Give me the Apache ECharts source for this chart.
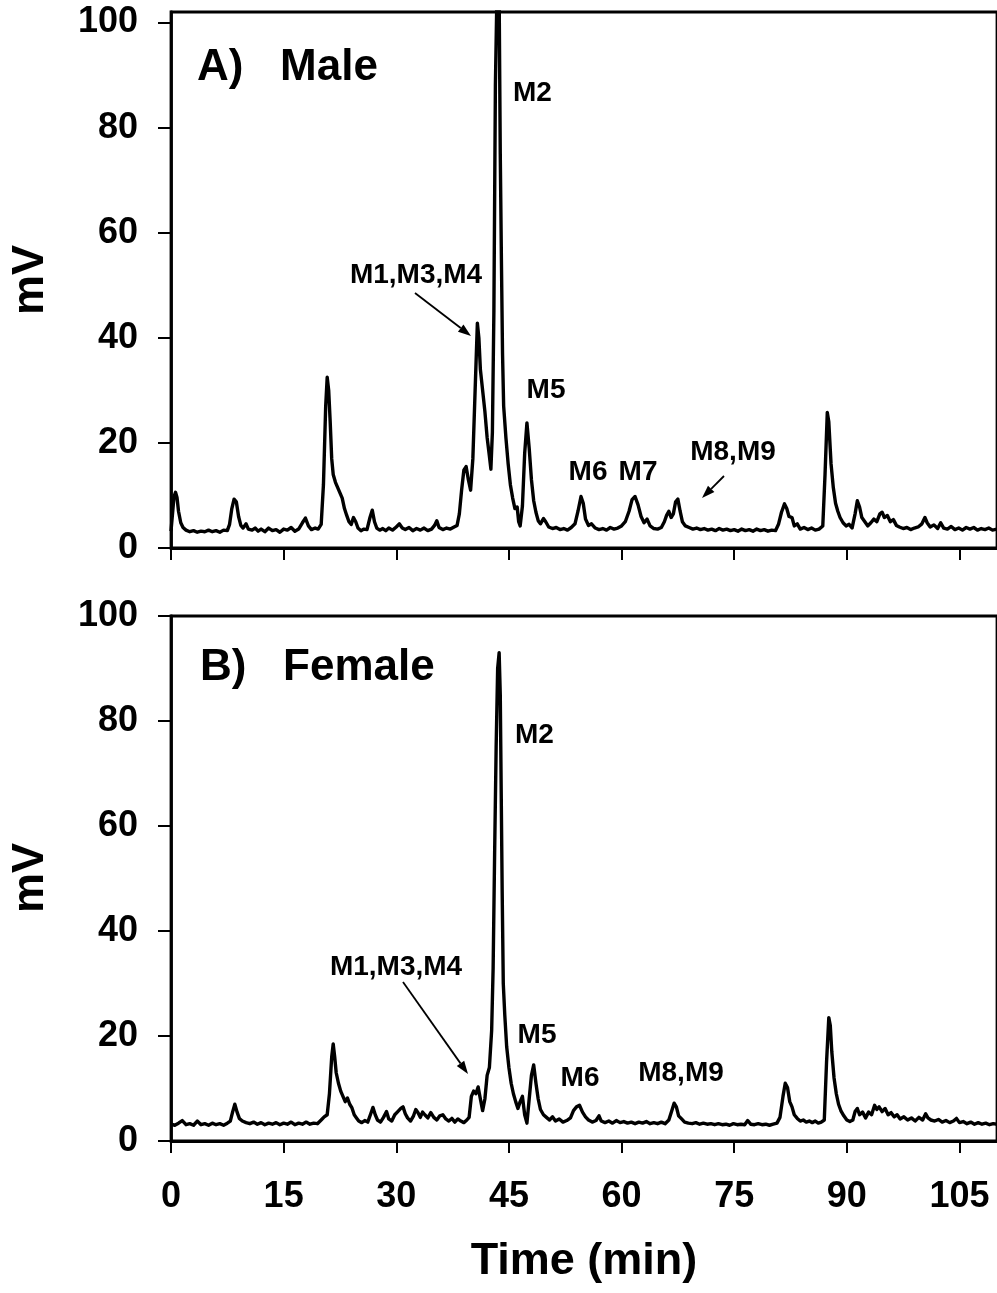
<!DOCTYPE html>
<html>
<head>
<meta charset="utf-8">
<script src="https://cdn.jsdelivr.net/npm/echarts@6/dist/echarts.min.js"></script>
<style>html,body{margin:0;padding:0;background:#fff}#main{width:997px;height:1293px}</style>
</head>
<body>
<div id="main"></div>
<script>
// ---- data (time in min, signal in mV) ----
var xTicks = [0, 15, 30, 45, 60, 75, 90, 105];
var yTicks = [0, 20, 40, 60, 80, 100];

var maleData = [
[0.0,3.2],[0.2,6.5],[0.4,9.8],[0.6,10.6],[0.8,9.6],[1.0,7.0],[1.3,4.8],[1.6,3.9],[2.0,3.4],[2.5,3.1],[3.0,3.3],[3.5,3.0],[4.0,3.2],[4.5,3.1],[5.0,3.4],[5.5,3.1],[6.0,3.3],[6.5,3.0],[7.0,3.4],[7.5,3.3],[7.8,4.5],[8.1,7.5],[8.4,9.3],[8.7,8.8],[9.0,6.0],[9.3,4.3],[9.6,3.8],[10.0,4.6],[10.3,3.6],[10.8,3.4],[11.2,3.8],[11.6,3.2],[12.0,3.6],[12.5,3.1],[13.0,3.8],[13.5,3.3],[14.0,3.5],[14.5,3.0],[15.0,3.6],[15.5,3.4],[16.0,3.9],[16.5,3.2],[17.0,3.6],[17.5,4.8],[17.9,5.7],[18.3,4.2],[18.7,3.5],[19.2,3.8],[19.6,3.6],[20.0,4.5],[20.3,12],[20.6,27],[20.8,32.5],[21.0,30],[21.2,24],[21.4,17],[21.6,14],[21.9,12.5],[22.2,11.5],[22.5,10.5],[22.8,9.5],[23.1,7.5],[23.4,6.2],[23.7,5.0],[24.0,4.5],[24.3,5.8],[24.6,5.0],[24.9,3.8],[25.3,3.3],[25.7,3.6],[26.1,3.5],[26.5,5.8],[26.8,7.2],[27.1,5.0],[27.4,3.8],[27.8,3.4],[28.2,3.7],[28.6,3.3],[29.0,3.8],[29.5,3.4],[30.0,4.0],[30.4,4.6],[30.8,3.8],[31.2,3.5],[31.7,3.9],[32.2,3.3],[32.7,3.7],[33.2,3.4],[33.7,3.8],[34.2,3.3],[34.7,3.6],[35.1,4.3],[35.4,5.2],[35.7,3.9],[36.2,3.5],[36.7,3.8],[37.2,3.6],[37.7,4.0],[38.1,4.3],[38.4,6.5],[38.7,11],[39.0,14.8],[39.3,15.5],[39.6,13],[39.9,11],[40.2,17],[40.5,30],[40.8,42.8],[41.0,40],[41.2,34],[41.5,30],[41.8,26],[42.1,21],[42.4,17.5],[42.6,15],[42.8,22],[43.0,45],[43.2,88],[43.4,105],[43.7,105],[43.85,75],[44.0,55],[44.15,37],[44.3,27],[44.6,21],[44.9,16],[45.2,12],[45.5,9.5],[45.8,7.5],[46.1,7.8],[46.3,5.0],[46.5,4.2],[46.8,8],[47.1,18],[47.4,23.8],[47.7,19],[48.0,13],[48.3,9],[48.6,6.8],[48.9,5.2],[49.2,4.6],[49.6,5.6],[49.9,5.0],[50.3,4.0],[50.8,3.7],[51.3,3.9],[51.8,3.5],[52.3,3.7],[52.8,3.4],[53.3,3.9],[53.8,4.6],[54.2,7.0],[54.6,9.8],[54.9,8.5],[55.2,5.5],[55.6,4.3],[56.0,4.6],[56.5,3.8],[57.0,3.5],[57.5,3.7],[58.0,3.4],[58.5,3.9],[59.0,3.6],[59.5,3.8],[60.0,4.2],[60.5,5.0],[61.0,7.0],[61.4,9.2],[61.8,9.8],[62.2,8.2],[62.6,6.0],[63.0,4.8],[63.4,5.5],[63.8,4.2],[64.3,3.7],[64.8,3.6],[65.3,3.9],[65.7,5.0],[66.0,6.2],[66.3,7.0],[66.6,5.8],[66.9,6.5],[67.2,8.8],[67.5,9.3],[67.8,7.0],[68.1,5.0],[68.5,4.2],[69.0,3.9],[69.5,3.6],[70.0,3.8],[70.5,3.5],[71.0,3.7],[71.5,3.4],[72.0,3.6],[72.5,3.3],[73.0,3.7],[73.5,3.4],[74.0,3.6],[74.5,3.3],[75.0,3.5],[75.5,3.2],[76.0,3.6],[76.5,3.3],[77.0,3.5],[77.5,3.2],[78.0,3.6],[78.5,3.3],[79.0,3.5],[79.5,3.2],[80.0,3.4],[80.5,3.3],[80.9,4.5],[81.3,6.8],[81.7,8.4],[82.0,7.5],[82.3,6.0],[82.7,5.8],[83.0,4.2],[83.4,4.6],[83.8,3.6],[84.3,3.9],[84.8,3.5],[85.3,3.8],[85.8,3.4],[86.3,3.6],[86.8,4.2],[87.1,14],[87.4,25.8],[87.6,24],[87.9,16],[88.2,11.5],[88.5,8.5],[88.8,7.0],[89.1,5.8],[89.5,4.8],[89.9,4.2],[90.3,4.5],[90.7,3.8],[91.1,6.5],[91.4,9.0],[91.7,7.8],[92.0,5.8],[92.4,5.0],[92.8,4.2],[93.2,4.8],[93.6,5.5],[94.0,5.0],[94.4,6.5],[94.7,6.8],[95.0,5.8],[95.4,6.2],[95.8,5.0],[96.2,5.4],[96.6,4.3],[97.0,4.0],[97.5,3.7],[98.0,3.9],[98.5,3.5],[99.0,3.8],[99.5,4.0],[100.0,4.6],[100.4,5.8],[100.7,4.8],[101.1,4.0],[101.6,4.4],[102.1,3.7],[102.5,4.8],[102.9,3.8],[103.4,3.6],[103.9,4.1],[104.4,3.5],[104.9,3.8],[105.4,3.4],[105.9,3.9],[106.4,3.6],[106.9,3.9],[107.4,3.4],[107.9,3.7],[108.4,3.5],[108.9,3.8],[109.4,3.4],[110.0,3.6]
];

var femaleData = [
[0.0,3.2],[0.5,3.0],[1.0,3.4],[1.5,3.9],[2.0,3.1],[2.5,3.3],[3.0,3.0],[3.5,3.8],[4.0,3.1],[4.5,3.3],[5.0,3.0],[5.5,3.4],[6.0,3.1],[6.5,3.3],[7.0,3.0],[7.5,3.4],[7.9,3.8],[8.2,5.5],[8.5,7.0],[8.8,5.5],[9.1,4.3],[9.5,3.8],[10.0,3.5],[10.5,3.3],[11.0,3.6],[11.5,3.2],[12.0,3.5],[12.5,3.1],[13.0,3.4],[13.5,3.2],[14.0,3.5],[14.5,3.1],[15.0,3.4],[15.5,3.2],[16.0,3.6],[16.5,3.1],[17.0,3.4],[17.5,3.2],[18.0,3.6],[18.5,3.2],[19.0,3.4],[19.5,3.3],[20.0,4.0],[20.4,4.6],[20.8,5.0],[21.1,9],[21.4,16],[21.6,18.5],[21.8,16],[22.0,13],[22.3,11],[22.6,9.5],[22.9,8.5],[23.2,7.5],[23.5,8.2],[23.8,7.0],[24.1,6.3],[24.4,5.0],[24.7,4.4],[25.0,3.8],[25.4,3.5],[25.8,3.9],[26.2,3.6],[26.6,5.2],[26.9,6.4],[27.2,5.0],[27.5,4.0],[27.9,3.6],[28.3,4.5],[28.7,5.6],[29.0,4.2],[29.4,3.8],[29.8,5.0],[30.2,5.6],[30.6,6.2],[30.9,6.5],[31.2,5.2],[31.5,4.4],[31.9,3.8],[32.3,4.8],[32.6,6.0],[32.9,5.4],[33.2,4.5],[33.5,5.5],[33.8,5.0],[34.2,4.4],[34.6,5.4],[35.0,4.5],[35.4,4.0],[35.8,4.8],[36.2,5.0],[36.6,4.2],[37.0,3.8],[37.4,4.3],[37.8,3.6],[38.2,4.2],[38.6,3.8],[39.0,3.5],[39.4,4.0],[39.7,4.5],[40.0,8.5],[40.3,9.5],[40.6,9.0],[40.9,10.3],[41.2,8.0],[41.5,5.8],[41.8,8.0],[42.1,12.5],[42.4,14],[42.7,21],[42.9,33],[43.1,55],[43.3,75],[43.5,90],[43.7,93],[43.85,85],[43.95,70],[44.1,48],[44.25,30],[44.45,24],[44.7,18],[45.0,14],[45.3,11],[45.6,9],[45.9,7.5],[46.2,6.2],[46.5,7.5],[46.8,8.5],[47.1,5.0],[47.4,3.4],[47.7,8],[48.0,12.5],[48.3,14.5],[48.6,11],[48.9,8],[49.2,6.0],[49.6,5.0],[50.0,4.5],[50.4,4.0],[50.8,4.6],[51.2,3.8],[51.7,4.2],[52.2,3.6],[52.7,3.9],[53.2,4.4],[53.6,5.8],[54.0,6.5],[54.4,6.8],[54.8,5.5],[55.2,4.6],[55.6,4.0],[56.1,3.6],[56.6,3.9],[57.0,4.8],[57.3,3.8],[57.8,3.5],[58.3,3.8],[58.8,3.4],[59.3,3.9],[59.8,3.5],[60.3,3.7],[60.8,3.4],[61.3,3.6],[61.8,3.3],[62.3,3.6],[62.8,3.4],[63.3,3.7],[63.8,3.3],[64.3,3.5],[64.8,3.3],[65.3,3.6],[65.8,3.3],[66.3,4.0],[66.7,5.8],[67.0,7.2],[67.3,6.5],[67.6,4.8],[68.0,4.2],[68.4,3.6],[68.9,3.4],[69.4,3.3],[69.9,3.5],[70.4,3.2],[70.9,3.4],[71.4,3.2],[71.9,3.3],[72.4,3.1],[72.9,3.3],[73.4,3.1],[73.9,3.2],[74.4,3.0],[74.9,3.3],[75.4,3.1],[75.9,3.2],[76.4,3.1],[76.8,3.9],[77.2,3.2],[77.7,3.1],[78.2,3.3],[78.7,3.1],[79.2,3.2],[79.7,3.0],[80.2,3.2],[80.7,3.4],[81.1,4.5],[81.5,8.5],[81.8,11.0],[82.1,10.2],[82.4,7.5],[82.7,6.5],[83.0,5.0],[83.4,4.3],[83.8,3.8],[84.2,4.0],[84.6,3.6],[85.0,3.8],[85.4,3.5],[85.8,3.8],[86.2,3.4],[86.6,3.6],[87.0,4.0],[87.3,15],[87.6,23.5],[87.8,22],[88.0,17],[88.3,12],[88.6,9],[88.9,7],[89.2,5.8],[89.6,4.8],[90.0,4.0],[90.4,3.7],[90.8,4.0],[91.1,5.6],[91.4,6.2],[91.7,5.0],[92.1,5.5],[92.5,4.4],[92.9,5.5],[93.3,5.0],[93.7,6.8],[94.0,6.0],[94.3,6.5],[94.7,5.6],[95.1,6.2],[95.5,5.0],[95.9,5.4],[96.3,4.6],[96.7,5.0],[97.1,4.2],[97.6,4.6],[98.1,4.0],[98.6,4.4],[99.1,3.8],[99.6,4.5],[100.1,4.0],[100.5,5.2],[100.8,4.4],[101.2,4.0],[101.7,3.8],[102.2,4.1],[102.7,3.6],[103.2,3.9],[103.7,3.5],[104.2,3.8],[104.6,4.3],[105.0,3.5],[105.5,3.7],[106.0,3.3],[106.5,3.6],[107.0,3.2],[107.5,3.5],[108.0,3.2],[108.5,3.4],[109.0,3.1],[109.5,3.3],[110.0,3.2]
];

var panelTitles = ['A)   Male', 'B)   Female'];
var yName = 'mV';
var xName = 'Time (min)';

// ---- chart ----
var FONT = 'Liberation Sans, Arial, Helvetica, sans-serif';
var chart = echarts.init(document.getElementById('main'), null, {renderer: 'canvas'});

function xAxisOpt(gi, showLabels) {
  return {
    type: 'value', gridIndex: gi, min: 0, max: 110,
    axisLine: {show: true, onZero: false, lineStyle: {color: '#000', width: 2.8}},
    axisTick: {show: true, inside: false, length: 12, customValues: xTicks, lineStyle: {color: '#000', width: 2}},
    axisLabel: {show: showLabels, customValues: xTicks, margin: 38, color: '#000',
      fontFamily: FONT, fontWeight: 'bold', fontSize: 36},
    splitLine: {show: false}
  };
}
function yAxisOpt(gi, maxV) {
  return {
    type: 'value', gridIndex: gi, min: 0, max: maxV,
    axisLine: {show: true, lineStyle: {color: '#000', width: 2.8}},
    axisTick: {show: true, inside: false, length: 13, customValues: yTicks, lineStyle: {color: '#000', width: 2}},
    axisLabel: {show: true, customValues: yTicks, margin: 33, color: '#000',
      fontFamily: FONT, fontWeight: 'bold', fontSize: 36},
    splitLine: {show: false}
  };
}

function arrow(x1, y1, x2, y2) {
  var a = Math.atan2(y2 - y1, x2 - x1), L = 13, W = 4.5;
  var bx = x2 - L * Math.cos(a), by = y2 - L * Math.sin(a);
  return [
    {type: 'line', shape: {x1: x1, y1: y1, x2: bx, y2: by}, style: {stroke: '#000', lineWidth: 1.8}},
    {type: 'polygon', shape: {points: [[x2, y2], [bx + W * Math.sin(a), by - W * Math.cos(a)], [bx - W * Math.sin(a), by + W * Math.cos(a)]]}, style: {fill: '#000'}}
  ];
}
function txt(s, x, y, size, align) {
  return {type: 'text', x: x, y: y, style: {text: s, fill: '#000', fontFamily: FONT, fontWeight: 'bold',
    fontSize: size, align: align || 'center', verticalAlign: 'middle'}};
}

var graphics = [
  txt(panelTitles[0], 197, 68, 44, 'left'),
  txt(panelTitles[1], 200, 668, 44, 'left'),
  {type: 'text', x: 31, y: 280, rotation: Math.PI / 2, style: {text: yName, fill: '#000', fontFamily: FONT, fontWeight: 'bold', fontSize: 45, align: 'center', verticalAlign: 'middle'}},
  {type: 'text', x: 31, y: 878, rotation: Math.PI / 2, style: {text: yName, fill: '#000', fontFamily: FONT, fontWeight: 'bold', fontSize: 45, align: 'center', verticalAlign: 'middle'}},
  txt(xName, 584, 1262, 45),
  // panel A annotations
  txt('M1,M3,M4', 416, 275, 28),
  txt('M2', 513, 93, 28, 'left'),
  txt('M5', 546, 390, 28),
  txt('M6', 588, 472, 28),
  txt('M7', 638, 472, 28),
  txt('M8,M9', 733, 452, 28),
  // panel B annotations
  txt('M1,M3,M4', 396, 967, 28),
  txt('M2', 515, 735, 28, 'left'),
  txt('M5', 537, 1035, 28),
  txt('M6', 580, 1078, 28),
  txt('M8,M9', 681, 1073, 28)
].concat(arrow(415, 293, 471, 336))
 .concat(arrow(724, 476, 702, 498))
 .concat(arrow(403, 982, 468, 1074));

var option = {
  animation: false,
  backgroundColor: '#fff',
  grid: [
    {left: 171, top: 12, width: 832, height: 536, show: true, borderColor: '#000', borderWidth: 2.8, backgroundColor: 'transparent', containLabel: false},
    {left: 171, top: 616, width: 832, height: 525, show: true, borderColor: '#000', borderWidth: 2.8, backgroundColor: 'transparent', containLabel: false}
  ],
  xAxis: [xAxisOpt(0, false), xAxisOpt(1, true)],
  yAxis: [yAxisOpt(0, 102), yAxisOpt(1, 100)],
  series: [
    {type: 'line', xAxisIndex: 0, yAxisIndex: 0, data: maleData, showSymbol: false, clip: true,
      lineStyle: {color: '#000', width: 3.4, join: 'round'}},
    {type: 'line', xAxisIndex: 1, yAxisIndex: 1, data: femaleData, showSymbol: false, clip: true,
      lineStyle: {color: '#000', width: 3.4, join: 'round'}}
  ],
  graphic: graphics
};
chart.setOption(option);
</script>
</body>
</html>
